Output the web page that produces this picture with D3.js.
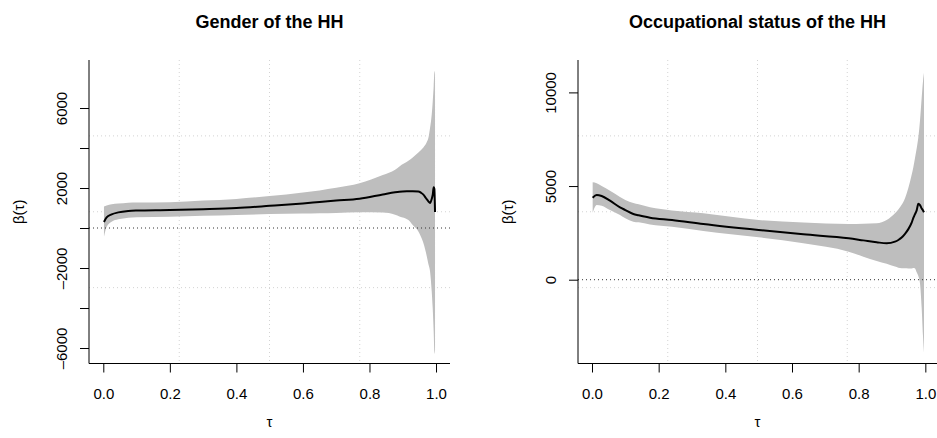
<!DOCTYPE html>
<html>
<head>
<meta charset="utf-8">
<script src="https://cdn.jsdelivr.net/npm/d3@7"></script>
<style>
  body { margin: 0; background: #fff; }
  svg { display: block; font-family: "Liberation Sans", Arial, sans-serif; }
</style>
</head>
<body>
<div id="chart"></div>
<script>
// Quantile process estimates

// Gender of the HH
let genderTau = [0.002, 0.01, 0.025, 0.045, 0.075, 0.1, 0.2, 0.3, 0.4, 0.5, 0.6, 0.65, 0.7, 0.77, 0.84,
  0.877, 0.89, 0.917, 0.93, 0.947, 0.955, 0.962, 0.967, 0.972, 0.977, 0.982, 0.987, 0.99, 0.993, 0.995, 0.997];
let genderCoef = [300, 530, 680, 780, 850, 870, 895, 940, 1000, 1110, 1230, 1300, 1370, 1467, 1680,
  1790, 1815, 1835, 1840, 1830, 1760, 1670, 1560, 1440, 1333, 1250, 1450, 1650, 2033, 1950, 800];
let genderHi = [1070, 1130, 1183, 1220, 1267, 1275, 1290, 1370, 1455, 1600, 1780, 1880, 2010, 2233, 2650,
  2917, 3080, 3360, 3520, 3770, 3900, 4030, 4133, 4290, 4500, 5000, 5667, 6300, 7100, 7750, 7850];
let genderLo = [-433, 67, 317, 433, 517, 540, 567, 610, 650, 700, 720, 733, 750, 783, 770,
  667, 580, 400, 150, -170, -450, -750, -1050, -1400, -1800, -2167, -3167, -4000, -5200, -6167, -6300];

// Occupational status of the HH
let occTau = [0.002, 0.014, 0.029, 0.054, 0.084, 0.1, 0.124, 0.14, 0.174, 0.24, 0.334, 0.5, 0.634, 0.77, 0.814,
  0.854, 0.884, 0.909, 0.919, 0.929, 0.939, 0.949, 0.959, 0.964, 0.969, 0.974, 0.979, 0.984, 0.989, 0.993, 0.996];
let occCoef = [4380, 4520, 4470, 4220, 3865, 3720, 3508, 3440, 3310, 3190, 2974, 2653, 2422, 2210, 2100,
  2000, 1943, 2030, 2120, 2250, 2450, 2700, 3050, 3300, 3500, 3700, 4050, 3980, 3800, 3700, 3600];
let occHi = [5200, 5150, 5000, 4750, 4420, 4255, 4100, 4025, 3865, 3700, 3550, 3187, 3050, 2974, 2990,
  3011, 3187, 3545, 3750, 4000, 4350, 4900, 5600, 6000, 6500, 7000, 7600, 8500, 9700, 10600, 11050];
let occLo = [3577, 3990, 3950, 3720, 3450, 3278, 3100, 3064, 2950, 2830, 2600, 2264, 1943, 1495, 1228,
  1000, 850, 700, 640, 615, 605, 600, 600, 620, 600, 400, 200, -200, -1500, -3000, -3900];

let xTicks = [0, 0.2, 0.4, 0.6, 0.8, 1.0];
let genderYTicks = [-6000, -4000, -2000, 0, 2000, 4000, 6000];
let genderYLabels = [-6000, -2000, 2000, 6000];
let occYTicks = [0, 5000, 10000];
let occYLabels = [0, 5000, 10000];

let svg = d3.select("#chart").append("svg")
  .attr("width", 937)
  .attr("height", 438);

let fmtY = d => d < 0 ? "\u2013" + Math.abs(d) : String(d);

function drawPanel(p) {
  let top = 60, bottom = 363.5;

  let x = d3.scaleLinear().domain(p.xDomain).range([p.left, p.right]);
  let y = d3.scaleLinear().domain(p.yDomain).range([bottom, top]);

  let rows = p.tau.map((t, i) => ({ t: t, c: p.coef[i], lo: p.lo[i], hi: p.hi[i] }));

  let g = svg.append("g");

  // grid(4, 4): splits the plot region in quarters
  let gx = d3.range(1, 4).map(k => p.xDomain[0] + k * (p.xDomain[1] - p.xDomain[0]) / 4);
  let gy = d3.range(1, 4).map(k => p.yDomain[0] + k * (p.yDomain[1] - p.yDomain[0]) / 4);

  g.selectAll(".vgrid").data(gx).enter().append("line")
    .attr("x1", d => x(d)).attr("x2", d => x(d))
    .attr("y1", top).attr("y2", bottom)
    .attr("stroke", "#d3d3d3").attr("stroke-dasharray", "1,3");

  g.selectAll(".hgrid").data(gy).enter().append("line")
    .attr("x1", p.left).attr("x2", p.right)
    .attr("y1", d => y(d)).attr("y2", d => y(d))
    .attr("stroke", "#d3d3d3").attr("stroke-dasharray", "1,3");

  // confidence band
  let area = d3.area()
    .curve(d3.curveMonotoneX)
    .x(d => x(d.t))
    .y0(d => y(d.lo))
    .y1(d => y(d.hi));

  g.append("path")
    .datum(rows)
    .attr("d", area)
    .attr("fill", "#bebebe");

  // zero line
  g.append("line")
    .attr("x1", p.left).attr("x2", p.right)
    .attr("y1", y(0)).attr("y2", y(0))
    .attr("stroke", "#333").attr("stroke-dasharray", "1,3");

  // estimate
  let line = d3.line()
    .curve(d3.curveMonotoneX)
    .x(d => x(d.t))
    .y(d => y(d.c));

  g.append("path")
    .datum(rows)
    .attr("d", line)
    .attr("fill", "none")
    .attr("stroke", "#000")
    .attr("stroke-width", 2)
    .attr("stroke-linejoin", "round");

  // L-shaped box
  g.append("path")
    .attr("d", "M" + p.left + "," + top + "V" + bottom + "H" + p.right)
    .attr("fill", "none")
    .attr("stroke", "#000");

  // x axis
  let xa = g.append("g")
    .attr("transform", "translate(0," + bottom + ")")
    .call(d3.axisBottom(x).tickValues(xTicks).tickFormat(d3.format(".1f")).tickSize(9).tickSizeOuter(0));
  xa.select(".domain").remove();
  xa.selectAll("text")
    .attr("y", 35).attr("dy", null)
    .attr("font-size", 15).attr("font-family", null).attr("fill", "#000");

  // y axis
  let ya = g.append("g")
    .attr("transform", "translate(" + p.left + ",0)")
    .call(d3.axisLeft(y).tickValues(p.yTicks)
      .tickFormat(d => p.yLabels.includes(d) ? fmtY(d) : "")
      .tickSize(9).tickSizeOuter(0));
  ya.select(".domain").remove();
  ya.selectAll("text")
    .attr("x", null).attr("dy", null)
    .attr("text-anchor", "middle")
    .attr("transform", "translate(-22,0) rotate(-90)")
    .attr("font-size", 15).attr("font-family", null).attr("fill", "#000");

  // titles
  g.append("text")
    .attr("x", (p.left + p.right) / 2).attr("y", 28)
    .attr("text-anchor", "middle")
    .attr("font-size", 18).attr("font-weight", "bold")
    .text(p.title);

  g.append("text")
    .attr("x", (p.left + p.right) / 2).attr("y", 427)
    .attr("text-anchor", "middle")
    .attr("font-size", 15)
    .text("\u03c4");

  g.append("text")
    .attr("transform", "translate(" + (p.left - 65) + "," + ((top + bottom) / 2) + ") rotate(-90)")
    .attr("text-anchor", "middle")
    .attr("font-size", 15)
    .text("\u03b2(\u03c4)");
}

drawPanel({
  title: "Gender of the HH",
  tau: genderTau, coef: genderCoef, lo: genderLo, hi: genderHi,
  left: 89, right: 450,
  xDomain: [-0.043, 1.042], yDomain: [-6775, 8400],
  yTicks: genderYTicks, yLabels: genderYLabels
});

drawPanel({
  title: "Occupational status of the HH",
  tau: occTau, coef: occCoef, lo: occLo, hi: occHi,
  left: 578, right: 937,
  xDomain: [-0.042, 1.035], yDomain: [-4474, 11730],
  yTicks: occYTicks, yLabels: occYLabels
});
</script>
</body>
</html>
